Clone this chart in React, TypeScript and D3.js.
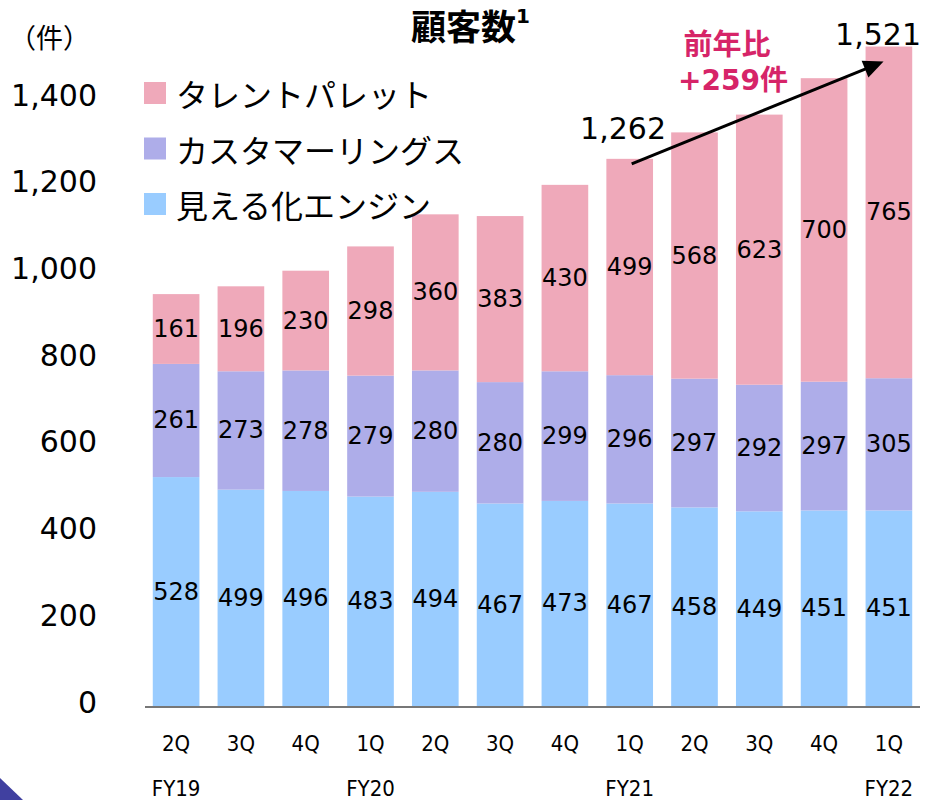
import * as d3 from "d3";

const quarters = ["2Q", "3Q", "4Q", "1Q", "2Q", "3Q", "4Q", "1Q", "2Q", "3Q", "4Q", "1Q"];
const fiscalYears = ["FY19", "", "", "FY20", "", "", "", "FY21", "", "", "", "FY22"];
const mieruka = [528, 499, 496, 483, 494, 467, 473, 467, 458, 449, 451, 451];
const customerRings = [261, 273, 278, 279, 280, 280, 299, 296, 297, 292, 297, 305];
const talentPalette = [161, 196, 230, 298, 360, 383, 430, 499, 568, 623, 700, 765];
const seriesNames = ["タレントパレット", "カスタマーリングス", "見える化エンジン"];
const colors = ["#EFA9BA", "#AEADE9", "#99CCFF"];
const yTicks = [0, 200, 400, 600, 800, 1000, 1200, 1400];

const width = 925;
const height = 800;
const FONT = "'DejaVu Sans', 'Noto Sans CJK JP', sans-serif";
const JP = "'Noto Sans CJK JP', sans-serif";

export default function App() {
  const idx = quarters.map((_, i) => i);
  const x = d3.scaleBand<number>().domain(idx).range([145, 920]).paddingInner(0.28).paddingOuter(0.12);
  const y = d3.scaleLinear().domain([0, 1400]).range([706, 99]);
  const bw = x.bandwidth();

  // stack order: bottom -> top
  const layers = [mieruka, customerRings, talentPalette];
  const layerColors = [colors[2], colors[1], colors[0]];
  const stacked = idx.map(i => {
    let acc = 0;
    return layers.map(l => {
      const y0 = acc;
      acc += l[i];
      return { y0, y1: acc, v: l[i] };
    });
  });
  const totals = idx.map(i => mieruka[i] + customerRings[i] + talentPalette[i]);

  const fmt = d3.format(",");
  const x1 = (x(7) ?? 0) + bw / 2 + 2;
  const y1 = y(totals[7]) + 5;
  const x2 = (x(11) ?? 0) + 18;
  const y2 = y(totals[11]) + 15;
  const ang = Math.atan2(y2 - y1, x2 - x1);
  const hl = 20;
  const hw = 9;
  const head = [
    [x2, y2],
    [x2 - hl * Math.cos(ang) + hw * Math.sin(ang), y2 - hl * Math.sin(ang) - hw * Math.cos(ang)],
    [x2 - hl * Math.cos(ang) - hw * Math.sin(ang), y2 - hl * Math.sin(ang) + hw * Math.cos(ang)],
  ];

  return (
    <svg width={width} height={height} style={{ position: "absolute", left: 0, top: 0 }}>
      <rect width={width} height={height} fill="#fff" />
      {/* bars */}
      {idx.map(i => (
        <g key={i}>
          {stacked[i].map((s, j) => (
            <g key={j}>
              <rect x={x(i)} y={y(s.y1)} width={bw} height={y(s.y0) - y(s.y1)} fill={layerColors[j]} />
              <text
                x={(x(i) ?? 0) + bw / 2}
                y={(y(s.y0) + y(s.y1)) / 2}
                textAnchor="middle"
                dominantBaseline="central"
                fontFamily={FONT}
                fontSize={24}
                fill="#000"
              >
                {s.v}
              </text>
            </g>
          ))}
        </g>
      ))}
      {/* baseline */}
      <line x1={145} x2={920} y1={y(0) + 1} y2={y(0) + 1} stroke="#777" strokeWidth={2} />
      {/* y axis labels */}
      {yTicks.map(t => (
        <text key={t} x={97} y={y(t) - 4} textAnchor="end" dominantBaseline="central" fontFamily={FONT} fontSize={30} fill="#000">
          {fmt(t)}
        </text>
      ))}
      <text x={9} y={36} dominantBaseline="central" fontFamily={JP} fontSize={27} fill="#000">（件）</text>
      {/* x labels */}
      {idx.map(i => (
        <text key={"q" + i} x={(x(i) ?? 0) + bw / 2} y={743} textAnchor="middle" dominantBaseline="central"
          fontFamily="'DejaVu Sans Condensed', 'DejaVu Sans', sans-serif" fontSize={22} fill="#000">
          {quarters[i]}
        </text>
      ))}
      {idx.map(i =>
        fiscalYears[i] ? (
          <text key={"fy" + i} x={(x(i) ?? 0) + bw / 2} y={788} textAnchor="middle" dominantBaseline="central"
            fontFamily="'DejaVu Sans Condensed', 'DejaVu Sans', sans-serif" fontSize={22} fill="#000">
            {fiscalYears[i]}
          </text>
        ) : null
      )}
      {/* title */}
      <text x={411} y={24} dominantBaseline="central" fontFamily={JP} fontWeight="bold" fontSize={35} fill="#000">
        顧客数<tspan fontSize={20} dy={-8} fontFamily={FONT}>1</tspan>
      </text>
      {/* legend */}
      {seriesNames.map((n, i) => (
        <g key={n} transform={`translate(144, ${93 + i * 55.5})`}>
          <rect x={0} y={-11} width={22} height={22} fill={colors[i]} />
          <text x={32} y={0} dominantBaseline="central" fontFamily={JP} fontSize={32} fill="#000">{n}</text>
        </g>
      ))}
      {/* annotation */}
      <text x={666} y={128} textAnchor="end" dominantBaseline="central" fontFamily={FONT} fontSize={30} fill="#000">
        {fmt(totals[7])}
      </text>
      <text x={921} y={34} textAnchor="end" dominantBaseline="central" fontFamily={FONT} fontSize={30} fill="#000">
        {fmt(totals[11])}
      </text>
      <line x1={x1} y1={y1} x2={x2 - 14 * Math.cos(ang)} y2={y2 - 14 * Math.sin(ang)} stroke="#000" strokeWidth={3} />
      <polygon points={head.map(p => p.join(",")).join(" ")} fill="#000" />
      <text x={727} y={42} textAnchor="middle" dominantBaseline="central" fontFamily={JP} fontWeight="bold" fontSize={29} fill="#D62468">
        前年比
      </text>
      <text x={733} y={80} textAnchor="middle" dominantBaseline="central" fontFamily={FONT} fontWeight="bold" fontSize={28} fill="#D62468">
        +{fmt(totals[11] - totals[7])}件
      </text>
      {/* corner decoration */}
      <polygon points="0,778 23,800 0,800" fill="#4040A0" />
    </svg>
  );
}
